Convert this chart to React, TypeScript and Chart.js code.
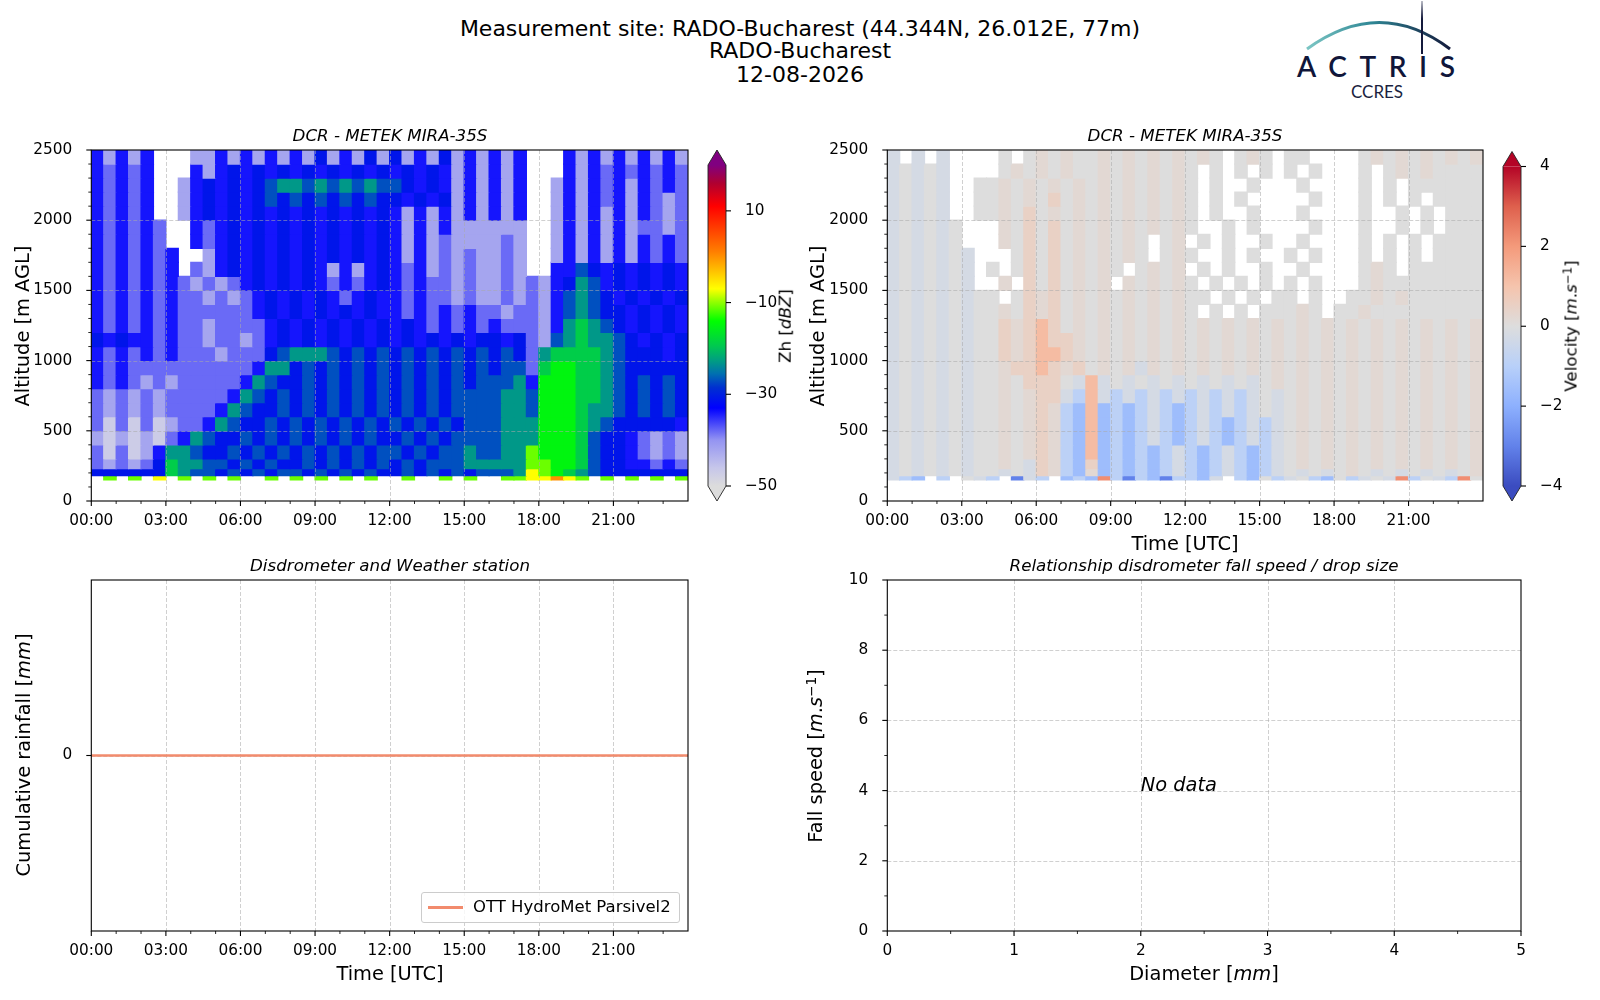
import { useEffect, useRef } from 'react';
import { Chart, registerables } from 'chart.js';

Chart.register(...registerables);

const FONT = '"DejaVu Sans", "Liberation Sans", sans-serif';
const TICK_FONT = { family: FONT, size: 15.3 };

// ---- axes -----------------------------------------------------------------
const TIME_TICKS_H = [0, 3, 6, 9, 12, 15, 18, 21];
const TIME_MINOR_H = [1, 2, 4, 5, 7, 8, 10, 11, 13, 14, 16, 17, 19, 20, 22, 23];
const ALT_TICKS_M = [0, 500, 1000, 1500, 2000, 2500];
const ALT_MINOR_M = [100, 200, 300, 400, 600, 700, 800, 900, 1100, 1200, 1300, 1400, 1600, 1700, 1800, 1900, 2100, 2200, 2300, 2400];

// ---- radar grid: 48 half-hour columns, altitude rows listed top to bottom --
const TIME_BIN_H = 0.5;
const ALT_LOW_M = [2400, 2300, 2200, 2100, 2000, 1900, 1800, 1700, 1600, 1500, 1400, 1300, 1200, 1100, 1000, 900, 800, 700, 600, 500, 400, 300, 230, 180, 150];
const ALT_HIGH_M = [2500, 2400, 2300, 2200, 2100, 2000, 1900, 1800, 1700, 1600, 1500, 1400, 1300, 1200, 1100, 1000, 900, 800, 700, 600, 500, 400, 300, 230, 180];

// reflectivity classes (dBZ); '.' = no echo
const ZH_CODES: Record<string, number> = {
  '0': -47, '1': -42, '2': -38, '3': -34, '4': -31, '5': -27, '6': -23,
  '7': -19, '8': -15, '9': -11, y: -7, o: 0,
};

// each row: 00-04h | 04-08h | 08-12h | 12-16h | 16-20h | 20-24h
const ZH_ROWS = [
  '31313... 11313131 31413141 41314131 313...31 31313131',
  '32323... 31343434 34343434 34343131 313...31 32323232',
  '32323..1 34343456 65656565 54343131 313..131 32313232',
  '32323..1 34343454 54545454 43434131 313..131 32313212',
  '32323..1 34343434 34343434 31313131 313..131 31313212',
  '323232.. 32343434 34343434 31313111 111..131 31312212',
  '323232.. 32343434 34343434 31312111 121..131 31313232',
  '3232323. .1343434 34343434 31312121 121..131 31313232',
  '3232323. 21343434 34313134 32312121 121..335 43434343',
  '32323232 12123434 34323234 32322121 12121346 53434343',
  '32323232 21212343 43432343 32322121 12121356 54343434',
  '32323232 22222343 43434343 32323232 21221356 54434343',
  '32323232 21222234 34343434 34323232 32221367 65434343',
  '43433232 21221234 34343434 34343434 43421567 66543434',
  '32323232 22122245 66654545 45454545 45426777 76544434',
  '32322222 22222366 45454545 45454545 45527887 76544444',
  '32321212 22223654 45454545 45454545 55638887 76545454',
  '21212122 22236545 45454545 45454555 56658887 76545454',
  '21212122 22365445 45454545 45454555 56658887 66545454',
  '20202012 23654454 54545454 54545455 56668887 65444443',
  '10101023 65445454 54545454 45454555 56668887 54432121',
  '20201366 54454545 45454545 54545565 56698887 54432121',
  '21212476 65545454 45454545 45455566 66699887 54433232',
  '44444476 55454545 54545454 45454545 556y9876 54444444',
  '.9.9.y.9 .9.9..9. 9.9.9.9. .9..9.9. .99yyoy9 .9.9.9.9',
];

// Doppler velocity classes (m/s); '.' = no echo
const VEL_CODES: Record<string, number> = {
  B: -3, b: -1.6, c: -0.9, d: -0.25, g: 0, p: 0.2, q: 0.5, r: 1.2, R: 2.2,
};

const VEL_ROWS = [
  'd.d.d... .g.gpgpg gpgpgpgp gpg.gpg. gg....gp gpgpgpgp',
  'dgdgd... .gpgpgpg gpgpgpgp g.g.g.g. g.g...g. gpgpgggg',
  'dgdgd..g gpgpgpgp gpgpgpgp g.g..g.. .g....g. g.gggggg',
  'dgdgd..g gpgpgqgp gpgpgpgp g.g.g... ..g...g. g.g.gggg',
  'dgdgd..g gpgqgpgp gpgpgpgp g.g..g.. .g....g. .g.g.ggg',
  'dgdgdg.. .pgqgqgp gpgpgpgp g..g.g.. ..g...g. .g.g.ggg',
  'dgdgdg.. .pgqgqgp gpgpg.gp .g.g..g. .g....g. g.g.gggg',
  'dgdgdgd. ..gqgqgp gpgpg.gp g..g.g.. g.g...g. g.g.gggg',
  'dgdgdgd. g.gqgqgp gpg.gpgp .g.g..g. .g....gp g.gggggg',
  'dgdgdgd. .p.qgqgp gp.pgpgp g.g.g.g. g.g...gp gggggggg',
  'dgdgdgdg g.gqpqgp gpgpgpgp gg.g.g.g g.g..ggp gpgggggg',
  'dgdgdgdg gpgqpqgp gpgpgpgp g.g.g.gg gpg.ggpg gggggggg',
  'dgdgdgdg gqpqrqgp gpgpgpgp gpgpgpgp gpgpgpgp gpgpgpgp',
  'dgdgdgdg gqpqrqqp gpgpgpgp gpgpgpgp gpgpgpgp gpgpgpgp',
  'dgdgdgdg gqpqrrqp gpgpgpgp gpgpgpgp gpgpgpgp gpgpgpgp',
  'dgdgdgdg gpqqrqpq gpgpdpgp gpgpgpgp gpgpgpgp gpgpgpgp',
  'dgdgdgdg gpgqqqgd rdgdgdgd gdgdgdgp gpgpgpgp gpgpgpgp',
  'dgdgdgdg gpgpqqdc rdcdcdcd cdcdcdgd gpgpgpgp gpgpgpgp',
  'dgdgdgdg gpgpqpcb rbcbcdcb cdcdcdgd gpgpgpgp gpgpgpgp',
  'dgdgdgdg gpgpqpcb rbcbcdcb cdcbcdcd gpgpgpgp gpgpgpgp',
  'dgdgdgdg gpgpqpcb rbcbcdcb cdcbcdcd gpgpgpgp gpgpgpgp',
  'dgdgdgdg gpgpqpcb rbcbcbcd cbcdcbcd gpgpgpgp gpgpgpgp',
  'dgdgdgdg gpgdqpcb qbcbcbcd cbcdcbcd gpgpgpgp gpgpgpgp',
  'dgdgdgdg gdgdqpcb pbcbcbcd cbcdcbcd gdgdgpgd gdgdgdgp',
  'dcb.c.gd c.Bdc.bc bRcBcbBc cbd.cbgc dgcbgcdg dRcgdcRg',
];

// colour bars
const ZH_MIN = -50;
const ZH_MAX = 20;
const ZH_CBAR_TICKS = [-50, -30, -10, 10];
const VEL_MIN = -4;
const VEL_MAX = 4;
const VEL_CBAR_TICKS = [-4, -2, 0, 2, 4];

// ---- disdrometer ------------------------------------------------------------
const RAIN_LABEL = 'OTT HydroMet Parsivel2';
const RAIN_TIME_H = [0, 1, 2, 3, 4, 5, 6, 7, 8, 9, 10, 11, 12, 13, 14, 15, 16, 17, 18, 19, 20, 21, 22, 23, 24];
const RAIN_CUM_MM = [0, 0, 0, 0, 0, 0, 0, 0, 0, 0, 0, 0, 0, 0, 0, 0, 0, 0, 0, 0, 0, 0, 0, 0, 0];
const RAIN_TICKS = [0];

const DROP_DIAM_MM: number[] = [];
const DROP_SPEED_MS: number[] = [];
const DIAM_TICKS = [0, 1, 2, 3, 4, 5];
const DIAM_MINOR = [0.5, 1.5, 2.5, 3.5, 4.5];
const SPEED_TICKS = [0, 2, 4, 6, 8, 10];
const SPEED_MINOR = [1, 3, 5, 7, 9];
const NO_DATA_AT = { x: 2, y: 4 };

// ---- colours ----------------------------------------------------------------
type Stop = [number, string];
const ZH_STOPS: Stop[] = [
  [-50, '#dcdcdc'], [-46, '#c6c6ea'], [-40, '#9494f2'], [-33, '#0000ff'],
  [-28.5, '#0030d0'], [-25.5, '#0070b0'], [-22.5, '#00a080'], [-19.5, '#00c850'],
  [-14, '#00ff00'], [-9.5, '#a0ff00'], [-7, '#ffff00'], [1, '#ff8000'],
  [11, '#ff0000'], [16, '#b00030'], [20, '#800080'],
];
const VEL_STOPS: Stop[] = [
  [-4, '#3b4cc0'], [-3, '#6282ea'], [-2, '#8db0fe'], [-1, '#b8d0f9'], [0, '#dddddd'],
  [1, '#f5c4ad'], [2, '#f49a7b'], [3, '#de604d'], [4, '#b40426'],
];
const RAIN_COLOR = '#f28b6d';

function hexRgb(h: string) {
  const n = parseInt(h.slice(1), 16);
  return [(n >> 16) & 255, (n >> 8) & 255, n & 255];
}

function colormap(stops: Stop[]) {
  const s = stops.map(([v, c]) => [v, hexRgb(c)] as [number, number[]]);
  const css = (c: number[]) => `rgb(${c.map((k) => Math.round(k)).join(',')})`;
  return (v: number) => {
    if (v <= s[0][0]) return css(s[0][1]);
    for (let i = 1; i < s.length; i++) {
      if (v <= s[i][0]) {
        const [v0, c0] = s[i - 1];
        const [v1, c1] = s[i];
        const f = (v - v0) / (v1 - v0);
        return css(c0.map((k, j) => k + (c1[j] - k) * f));
      }
    }
    return css(s[s.length - 1][1]);
  };
}

function heatDatasets(rows: string[], codes: Record<string, number>, cmap: (v: number) => string) {
  return rows.map((row, r) => {
    const data: { x: number; y: [number, number] }[] = [];
    const colors: string[] = [];
    row.replace(/ /g, '').split('').forEach((ch, c) => {
      const v = codes[ch];
      if (v === undefined) return;
      data.push({ x: (c + 0.5) * TIME_BIN_H, y: [ALT_LOW_M[r], ALT_HIGH_M[r]] });
      colors.push(cmap(v));
    });
    return {
      type: 'bar' as const,
      data,
      backgroundColor: colors,
      borderWidth: 0,
      barPercentage: 1,
      categoryPercentage: 1,
      grouped: false,
      inflateAmount: 0.6,
    };
  });
}

// ---- plugins ------------------------------------------------------------------
function seg(ctx: CanvasRenderingContext2D, x1: number, y1: number, x2: number, y2: number) {
  ctx.beginPath();
  ctx.moveTo(x1, y1);
  ctx.lineTo(x2, y2);
  ctx.stroke();
}

function drawGrid(chart: any) {
  const { ctx, chartArea: a } = chart;
  const sx = chart.scales.x;
  const sy = chart.scales.y;
  ctx.save();
  ctx.lineWidth = 1;
  ctx.strokeStyle = 'rgba(170,170,170,0.55)';
  ctx.setLineDash([4, 2]);
  for (const t of sx.ticks) {
    const p = Math.round(sx.getPixelForValue(t.value)) + 0.5;
    if (p > a.left + 1 && p < a.right - 1) seg(ctx, p, a.top, p, a.bottom);
  }
  for (const t of sy.ticks) {
    const p = Math.round(sy.getPixelForValue(t.value)) + 0.5;
    if (p > a.top + 1 && p < a.bottom - 1) seg(ctx, a.left, p, a.right, p);
  }
  ctx.restore();
}

// matplotlib-like frame: dashed grid, black spines, major + minor ticks
const framePlugin = {
  id: 'frame',
  beforeDatasetsDraw(chart: any, _args: any, opts: any) {
    if (!opts.gridAbove) drawGrid(chart);
  },
  afterDatasetsDraw(chart: any, _args: any, opts: any) {
    if (opts.gridAbove) drawGrid(chart);
    const { ctx, chartArea: a } = chart;
    const sx = chart.scales.x;
    const sy = chart.scales.y;
    ctx.save();
    ctx.strokeStyle = '#000';
    ctx.lineWidth = 1.1;
    ctx.strokeRect(a.left, a.top, a.right - a.left, a.bottom - a.top);
    const xTicks = (vals: number[], len: number, w: number) => {
      ctx.lineWidth = w;
      vals.forEach((v) => {
        const p = sx.getPixelForValue(v);
        seg(ctx, p, a.bottom, p, a.bottom + len);
      });
    };
    const yTicks = (vals: number[], len: number, w: number) => {
      ctx.lineWidth = w;
      vals.forEach((v) => {
        const p = sy.getPixelForValue(v);
        seg(ctx, a.left - len, p, a.left, p);
      });
    };
    xTicks(sx.ticks.map((t: any) => t.value), 5, 1.1);
    yTicks(sy.ticks.map((t: any) => t.value), 5, 1.1);
    xTicks(opts.xMinor || [], 3, 0.85);
    yTicks(opts.yMinor || [], 3, 0.85);
    ctx.restore();
  },
};

const colorbarPlugin = {
  id: 'cbar',
  afterDraw(chart: any, _args: any, o: any) {
    const { ctx, chartArea: a } = chart;
    const sy = chart.scales.y;
    const lo = sy.getPixelForValue(o.min);
    const hi = sy.getPixelForValue(o.max);
    const ext = 15;
    const cx = (a.left + a.right) / 2;
    const g = ctx.createLinearGradient(0, lo, 0, hi);
    (o.stops as Stop[]).forEach(([v, c]) => g.addColorStop((v - o.min) / (o.max - o.min), c));
    ctx.save();
    ctx.fillStyle = g;
    ctx.fillRect(a.left, hi, a.right - a.left, lo - hi);
    ctx.fillStyle = o.stops[o.stops.length - 1][1];
    ctx.beginPath();
    ctx.moveTo(a.left, hi);
    ctx.lineTo(cx, hi - ext);
    ctx.lineTo(a.right, hi);
    ctx.closePath();
    ctx.fill();
    ctx.fillStyle = o.stops[0][1];
    ctx.beginPath();
    ctx.moveTo(a.left, lo);
    ctx.lineTo(cx, lo + ext);
    ctx.lineTo(a.right, lo);
    ctx.closePath();
    ctx.fill();
    ctx.strokeStyle = '#222';
    ctx.lineWidth = 0.9;
    ctx.beginPath();
    ctx.moveTo(a.left, hi);
    ctx.lineTo(cx, hi - ext);
    ctx.lineTo(a.right, hi);
    ctx.lineTo(a.right, lo);
    ctx.lineTo(cx, lo + ext);
    ctx.lineTo(a.left, lo);
    ctx.closePath();
    ctx.stroke();
    ctx.strokeStyle = '#000';
    ctx.lineWidth = 1.1;
    for (const t of sy.ticks) {
      const p = sy.getPixelForValue(t.value);
      seg(ctx, a.right, p, a.right + 5, p);
    }
    ctx.restore();
  },
};

const noDataPlugin = {
  id: 'nodata',
  afterDatasetsDraw(chart: any, _args: any, o: any) {
    if (!o.text) return;
    const { ctx } = chart;
    ctx.save();
    ctx.font = `italic 19.4px ${FONT}`;
    ctx.fillStyle = '#000';
    ctx.textAlign = 'left';
    ctx.textBaseline = 'alphabetic';
    ctx.fillText(o.text, chart.scales.x.getPixelForValue(o.x), chart.scales.y.getPixelForValue(o.y));
    ctx.restore();
  },
};

// ---- scale builders --------------------------------------------------------
const hhmm = (v: any) => `${String(v).padStart(2, '0')}:00`;
const minus = (v: any) => String(v).replace('-', '\u2212');

function linAxis(min: number, max: number, ticks: number[], fmt: (v: any) => string, fit: (s: any) => void, padding: number, extra: any = {}) {
  return {
    type: 'linear',
    min,
    max,
    offset: false,
    grid: { display: false, offset: false },
    border: { display: false },
    afterBuildTicks: (s: any) => {
      s.ticks = ticks.map((v) => ({ value: v }));
    },
    afterFit: fit,
    ticks: { font: TICK_FONT, color: '#000', padding, maxRotation: 0, autoSkip: false, callback: fmt },
    ...extra,
  };
}

const baseOptions = (padding: any) => ({
  responsive: false,
  animation: false,
  events: [],
  layout: { padding, autoPadding: false },
});

// plot areas sit 22px below the canvas top (room for the top y label)
const TOP_PAD = 22;
const X_AXIS_H = 39;

function heatConfig(rows: string[], codes: Record<string, number>, stops: Stop[], yWidth: number, rightPad: number) {
  return {
    type: 'bar',
    data: { datasets: heatDatasets(rows, codes, colormap(stops)) },
    options: {
      ...baseOptions({ left: 0, top: TOP_PAD, right: rightPad, bottom: 0 }),
      plugins: {
        legend: { display: false },
        tooltip: { enabled: false },
        frame: { xMinor: TIME_MINOR_H, yMinor: ALT_MINOR_M, gridAbove: true },
      },
      scales: {
        x: linAxis(0, 24, TIME_TICKS_H, hhmm, (s) => { s.height = X_AXIS_H; }, 3),
        y: linAxis(0, 2500, ALT_TICKS_M, (v) => String(v), (s) => { s.width = yWidth; }, 11),
      },
    },
    plugins: [framePlugin],
  };
}

function cbarConfig(min: number, max: number, ticks: number[], stops: Stop[], width: number, top: number) {
  return {
    type: 'scatter',
    data: { datasets: [] },
    options: {
      ...baseOptions({ left: 8, top, right: 0, bottom: 34 }),
      plugins: { legend: { display: false }, tooltip: { enabled: false }, cbar: { min, max, stops } },
      scales: {
        x: { type: 'linear', display: false, min: 0, max: 1 },
        y: linAxis(min, max, ticks, minus, (s) => { s.width = width; }, 11, { position: 'right' }),
      },
    },
    plugins: [colorbarPlugin],
  };
}

function rainConfig() {
  return {
    type: 'line',
    data: {
      datasets: [
        {
          label: RAIN_LABEL,
          data: RAIN_TIME_H.map((t, i) => ({ x: t, y: RAIN_CUM_MM[i] })),
          borderColor: RAIN_COLOR,
          backgroundColor: RAIN_COLOR,
          borderWidth: 2.6,
          pointRadius: 0,
          tension: 0,
        },
      ],
    },
    options: {
      ...baseOptions({ left: 0, top: TOP_PAD, right: 12, bottom: 0 }),
      plugins: {
        legend: { display: false },
        tooltip: { enabled: false },
        frame: { xMinor: TIME_MINOR_H, yMinor: [], gridAbove: false },
      },
      scales: {
        x: linAxis(0, 24, TIME_TICKS_H, hhmm, (s) => { s.height = X_AXIS_H; }, 3),
        y: linAxis(-0.055, 0.055, RAIN_TICKS, (v) => String(v), (s) => { s.width = 91.3; }, 11),
      },
    },
    plugins: [framePlugin],
  };
}

function dropConfig() {
  return {
    type: 'scatter',
    data: {
      datasets: [
        {
          data: DROP_DIAM_MM.map((d, i) => ({ x: d, y: DROP_SPEED_MS[i] })),
          backgroundColor: '#1f77b4',
          pointRadius: 2,
        },
      ],
    },
    options: {
      ...baseOptions({ left: 0, top: TOP_PAD, right: 14, bottom: 0 }),
      plugins: {
        legend: { display: false },
        tooltip: { enabled: false },
        frame: { xMinor: DIAM_MINOR, yMinor: SPEED_MINOR, gridAbove: false },
        nodata: { text: DROP_DIAM_MM.length ? '' : 'No data', ...NO_DATA_AT },
      },
      scales: {
        x: linAxis(0, 5, DIAM_TICKS, (v) => String(v), (s) => { s.height = X_AXIS_H; }, 3),
        y: linAxis(0, 10, SPEED_TICKS, (v) => String(v), (s) => { s.width = 97.3; }, 11),
      },
    },
    plugins: [framePlugin, noDataPlugin],
  };
}

// ---- layout helpers --------------------------------------------------------
function Txt({ x, y, size, italic, rotate, children }: { x: number; y: number; size: number; italic?: boolean; rotate?: boolean; children: any }) {
  return (
    <div
      style={{
        position: 'absolute',
        left: x,
        top: y,
        transform: `translate(-50%, -50%)${rotate ? ' rotate(-90deg)' : ''}`,
        fontSize: size,
        fontStyle: italic ? 'italic' : 'normal',
        fontFamily: FONT,
        lineHeight: 1,
        whiteSpace: 'nowrap',
        color: '#000',
      }}
    >
      {children}
    </div>
  );
}

const sup = { fontSize: '0.7em', verticalAlign: '0.45em', fontStyle: 'normal' as const };

export default function App() {
  const zRef = useRef<HTMLCanvasElement>(null);
  const zBarRef = useRef<HTMLCanvasElement>(null);
  const vRef = useRef<HTMLCanvasElement>(null);
  const vBarRef = useRef<HTMLCanvasElement>(null);
  const rainRef = useRef<HTMLCanvasElement>(null);
  const dropRef = useRef<HTMLCanvasElement>(null);

  useEffect(() => {
    const charts: Chart[] = [];
    const add = (el: HTMLCanvasElement | null, cfg: any) => {
      if (el) charts.push(new Chart(el, cfg));
    };
    add(zRef.current, heatConfig(ZH_ROWS, ZH_CODES, ZH_STOPS, 91.3, 12));
    add(zBarRef.current, cbarConfig(ZH_MIN, ZH_MAX, ZH_CBAR_TICKS, ZH_STOPS, 59, 25));
    add(vRef.current, heatConfig(VEL_ROWS, VEL_CODES, VEL_STOPS, 97.3, 12));
    add(vBarRef.current, cbarConfig(VEL_MIN, VEL_MAX, VEL_CBAR_TICKS, VEL_STOPS, 79, 26.5));
    add(rainRef.current, rainConfig());
    add(dropRef.current, dropConfig());
    return () => charts.forEach((c) => c.destroy());
  }, []);

  const box = (left: number, top: number): any => ({ position: 'absolute', left, top });

  return (
    <div style={{ position: 'absolute', left: 0, top: 0, width: 1600, height: 1000, background: '#fff', fontFamily: FONT, overflow: 'hidden' }}>
      <canvas ref={zRef} width={700} height={412} style={box(0, 128)} />
      <canvas ref={zBarRef} width={85} height={380} style={box(700, 140)} />
      <canvas ref={vRef} width={705} height={412} style={box(790, 128)} />
      <canvas ref={vBarRef} width={105} height={380} style={box(1495, 140)} />
      <canvas ref={rainRef} width={700} height={412} style={box(0, 558)} />
      <canvas ref={dropRef} width={745} height={412} style={box(790, 558)} />

      <Txt x={800} y={28.6} size={22}>Measurement site: RADO-Bucharest (44.344N, 26.012E, 77m)</Txt>
      <Txt x={800} y={51.1} size={22}>RADO-Bucharest</Txt>
      <Txt x={800} y={74.6} size={22}>12-08-2026</Txt>

      <Txt x={390} y={135} size={16.7} italic>DCR - METEK MIRA-35S</Txt>
      <Txt x={1185} y={135} size={16.7} italic>DCR - METEK MIRA-35S</Txt>
      <Txt x={390} y={565} size={16.7} italic>Disdrometer and Weather station</Txt>
      <Txt x={1204} y={565} size={16.7} italic>Relationship disdrometer fall speed / drop size</Txt>

      <Txt x={22.7} y={325.5} size={19.4} rotate>Altitude [m AGL]</Txt>
      <Txt x={818} y={325.5} size={19.4} rotate>Altitude [m AGL]</Txt>
      <Txt x={23.5} y={755} size={19.4} rotate>
        Cumulative rainfall [<i>mm</i>]
      </Txt>
      <Txt x={815} y={756} size={19.4} rotate>
        Fall speed [<i>m</i>.<i>s</i><span style={sup}>−1</span>]
      </Txt>

      <Txt x={1185} y={544} size={19.4}>Time [UTC]</Txt>
      <Txt x={390} y={974} size={19.4}>Time [UTC]</Txt>
      <Txt x={1204} y={974} size={19.4}>
        Diameter [<i>mm</i>]
      </Txt>

      <Txt x={785} y={326} size={16.7} rotate>
        Zh [<i>dBZ</i>]
      </Txt>
      <Txt x={1571} y={326} size={16.7} rotate>
        Velocity [<i>m</i>.<i>s</i><span style={sup}>−1</span>]
      </Txt>

      <div
        style={{
          position: 'absolute',
          left: 421,
          top: 892,
          width: 257,
          height: 29,
          border: '1px solid #cccccc',
          borderRadius: 3,
          background: 'rgba(255,255,255,0.8)',
        }}
      >
        <div style={{ position: 'absolute', left: 6, top: 13, width: 35, height: 2.6, background: RAIN_COLOR }} />
        <div style={{ position: 'absolute', left: 51, top: 6, fontSize: 16.5, lineHeight: 1, fontFamily: FONT, whiteSpace: 'nowrap' }}>{RAIN_LABEL}</div>
      </div>

      <svg style={{ position: 'absolute', left: 1290, top: 0 }} width={180} height={110} viewBox="0 0 180 110">
        <defs>
          <linearGradient id="arcG" x1="17" y1="0" x2="160" y2="0" gradientUnits="userSpaceOnUse">
            <stop offset="0" stopColor="#7cc6c4" />
            <stop offset="0.45" stopColor="#2f8795" />
            <stop offset="1" stopColor="#141a3c" />
          </linearGradient>
          <linearGradient id="barG" x1="0" y1="0" x2="0" y2="54" gradientUnits="userSpaceOnUse">
            <stop offset="0" stopColor="#141a3c" stopOpacity="0.25" />
            <stop offset="0.35" stopColor="#141a3c" />
          </linearGradient>
        </defs>
        <path d="M17 49 Q90 -4 160 49" fill="none" stroke="url(#arcG)" strokeWidth={3} />
        <line x1={132} y1={1} x2={132} y2={54} stroke="url(#barG)" strokeWidth={2} />
        <text x={7} y={77} fontSize={28} textLength={158} lengthAdjust="spacing" fill="#10163a" fontFamily="Lato" fontWeight={600}>
          ACTRIS
        </text>
        <text x={87} y={98} fontSize={17} textAnchor="middle" fill="#1a1f40" fontFamily="Lato">
          CCRES
        </text>
      </svg>
    </div>
  );
}
